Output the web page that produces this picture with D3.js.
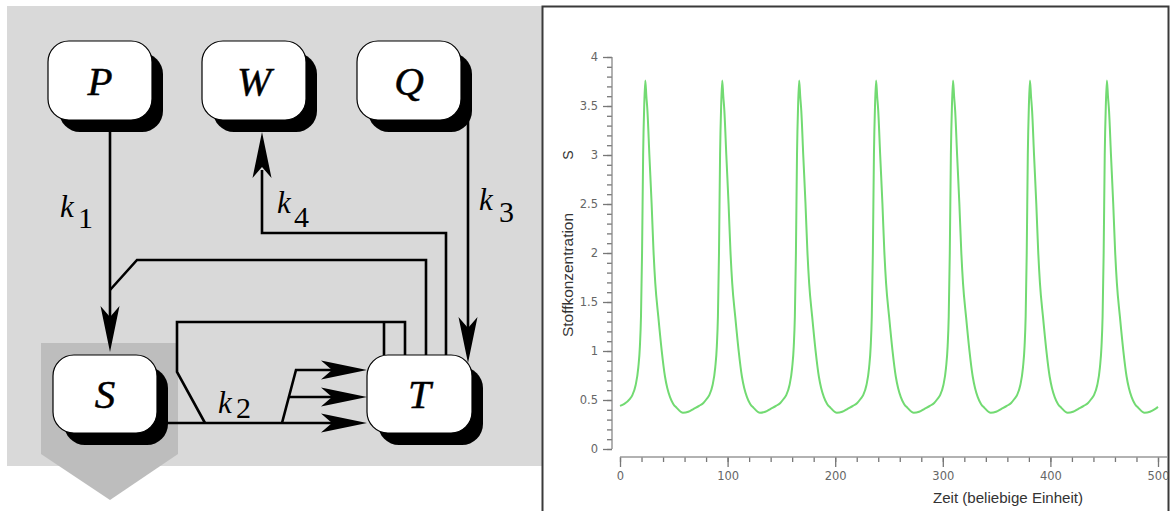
<!DOCTYPE html>
<html>
<head>
<meta charset="utf-8">
<script src="https://cdn.jsdelivr.net/npm/d3@7"></script>
<style>
  body { margin: 0; background: #fff; }
  svg { display: block; }
</style>
</head>
<body>
<svg id="chart" width="1175" height="511"></svg>
<script>
// values: time (beliebige Einheit) and S concentration
var zeit = [
  0, 4, 9, 11.5, 14.5, 17, 18.5, 19.5, 20.5, 21.5, 22.5, 23.5,
  24.5, 25.5, 27.3, 29.4, 31.1, 32.8, 35.6, 38.7, 41.8, 44, 46.5, 49.5, 52.7, 58.5, 63.5, 68.5, 73.5, 77.5, 80.5, 83, 86, 88.5, 90, 91, 92, 93, 94, 95,
  96, 97, 98.8, 100.9, 102.6, 104.3, 107.1, 110.2, 113.3, 115.5, 118, 121, 124.2, 130, 135, 140, 145, 149, 152, 154.5, 157.5, 160, 161.5, 162.5, 163.5, 164.5, 165.5, 166.5,
  167.5, 168.5, 170.3, 172.4, 174.1, 175.8, 178.6, 181.7, 184.8, 187, 189.5, 192.5, 195.7, 201.5, 206.5, 211.5, 216.5, 220.5, 223.5, 226, 229, 231.5, 233, 234, 235, 236, 237, 238,
  239, 240, 241.8, 243.9, 245.6, 247.3, 250.1, 253.2, 256.3, 258.5, 261, 264, 267.2, 273, 278, 283, 288, 292, 295, 297.5, 300.5, 303, 304.5, 305.5, 306.5, 307.5, 308.5, 309.5,
  310.5, 311.5, 313.3, 315.4, 317.1, 318.8, 321.6, 324.7, 327.8, 330, 332.5, 335.5, 338.7, 344.5, 349.5, 354.5, 359.5, 363.5, 366.5, 369, 372, 374.5, 376, 377, 378, 379, 380, 381,
  382, 383, 384.8, 386.9, 388.6, 390.3, 393.1, 396.2, 399.3, 401.5, 404, 407, 410.2, 416, 421, 426, 431, 435, 438, 440.5, 443.5, 446, 447.5, 448.5, 449.5, 450.5, 451.5, 452.5,
  453.5, 454.5, 456.3, 458.4, 460.1, 461.8, 464.6, 467.7, 470.8, 473, 475.5, 478.5, 481.7, 487.5, 492.5, 497.5, 500
];
var konz = [
  0.44, 0.46, 0.51, 0.55, 0.65, 0.83, 1.05, 1.35, 2.0, 3.0, 3.5, 3.76,
  3.6, 3.45, 3.0, 2.5, 2.03, 1.69, 1.35, 1.01, 0.74, 0.62, 0.53, 0.46, 0.42, 0.37, 0.38, 0.41, 0.44, 0.47, 0.51, 0.55, 0.65, 0.83, 1.05, 1.35, 2.0, 3.0, 3.5, 3.76,
  3.6, 3.45, 3.0, 2.5, 2.03, 1.69, 1.35, 1.01, 0.74, 0.62, 0.53, 0.46, 0.42, 0.37, 0.38, 0.41, 0.44, 0.47, 0.51, 0.55, 0.65, 0.83, 1.05, 1.35, 2.0, 3.0, 3.5, 3.76,
  3.6, 3.45, 3.0, 2.5, 2.03, 1.69, 1.35, 1.01, 0.74, 0.62, 0.53, 0.46, 0.42, 0.37, 0.38, 0.41, 0.44, 0.47, 0.51, 0.55, 0.65, 0.83, 1.05, 1.35, 2.0, 3.0, 3.5, 3.76,
  3.6, 3.45, 3.0, 2.5, 2.03, 1.69, 1.35, 1.01, 0.74, 0.62, 0.53, 0.46, 0.42, 0.37, 0.38, 0.41, 0.44, 0.47, 0.51, 0.55, 0.65, 0.83, 1.05, 1.35, 2.0, 3.0, 3.5, 3.76,
  3.6, 3.45, 3.0, 2.5, 2.03, 1.69, 1.35, 1.01, 0.74, 0.62, 0.53, 0.46, 0.42, 0.37, 0.38, 0.41, 0.44, 0.47, 0.51, 0.55, 0.65, 0.83, 1.05, 1.35, 2.0, 3.0, 3.5, 3.76,
  3.6, 3.45, 3.0, 2.5, 2.03, 1.69, 1.35, 1.01, 0.74, 0.62, 0.53, 0.46, 0.42, 0.37, 0.38, 0.41, 0.44, 0.47, 0.51, 0.55, 0.65, 0.83, 1.05, 1.35, 2.0, 3.0, 3.5, 3.76,
  3.6, 3.45, 3.0, 2.5, 2.03, 1.69, 1.35, 1.01, 0.74, 0.62, 0.53, 0.46, 0.42, 0.37, 0.38, 0.41, 0.43
];
var xTicks = [0, 100, 200, 300, 400, 500];
var yTicks = [0, 0.5, 1, 1.5, 2, 2.5, 3, 3.5, 4];
var xTitle = "Zeit (beliebige Einheit)";
var yTitle = "Stoffkonzentration";

// reaction scheme
var species = ["P", "W", "Q", "S", "T"];
var rates = ["1", "2", "3", "4"];

var svg = d3.select("#chart");
var serif = "'Liberation Serif', 'Times New Roman', serif";

// ---------- left: scheme ----------
var scheme = svg.append("g");

scheme.append("rect")
  .attr("x", 7).attr("y", 6)
  .attr("width", 535).attr("height", 460)
  .attr("fill", "#d9d9d9");

// outflow pentagon behind S
scheme.append("path")
  .attr("d", "M41,343 H178 V454 L110,500 L41,454 Z")
  .attr("fill", "#bdbdbd");

var boxes = {
  P: { x: 48, y: 41, w: 104, h: 79 },
  W: { x: 202, y: 41, w: 104, h: 79 },
  Q: { x: 357, y: 41, w: 104, h: 79 },
  S: { x: 53, y: 355, w: 104, h: 78 },
  T: { x: 367, y: 355, w: 105, h: 78 }
};

function arrowHead(x, y, angle) {
  scheme.append("path")
    .attr("d", "M0,0 L-46,-9.5 L-35,0 L-46,9.5 Z")
    .attr("transform", "translate(" + x + "," + y + ") rotate(" + angle + ")")
    .attr("fill", "#000");
}

var lines = [
  "M110,120 V320",                      // P -> S
  "M110,290 L137,260 H426 V355",         // T -> S
  "M446,355 V233 H262 V170",            // T -> W
  "M468,120 V330",                      // Q -> T
  "M168,423 H335",                      // S -> T
  "M205,423 L177,372 V322 H405 V355",
  "M384,322 V355",
  "M282,423 L296,370 H335",
  "M289,397 H335"
];
scheme.selectAll("path.link")
  .data(lines)
  .enter()
  .append("path")
  .attr("class", "link")
  .attr("d", function (d) { return d; })
  .attr("fill", "none")
  .attr("stroke", "#000")
  .attr("stroke-width", 2.6);

arrowHead(110, 352, 90);
arrowHead(262, 132, -90);
arrowHead(468, 363, 90);
arrowHead(367, 370, 0);
arrowHead(367, 397, 0);
arrowHead(367, 423, 0);

species.forEach(function (s) {
  var b = boxes[s];
  scheme.append("rect")
    .attr("x", b.x + 11).attr("y", b.y + 12)
    .attr("width", b.w).attr("height", b.h)
    .attr("rx", 21).attr("fill", "#000");
  scheme.append("rect")
    .attr("x", b.x).attr("y", b.y)
    .attr("width", b.w).attr("height", b.h)
    .attr("rx", 21)
    .attr("fill", "#fff")
    .attr("stroke", "#000")
    .attr("stroke-width", 1.2);
  scheme.append("text")
    .attr("x", b.x + b.w / 2)
    .attr("y", b.y + b.h / 2 + 14)
    .attr("text-anchor", "middle")
    .attr("stroke", "#000")
    .attr("stroke-width", 0.5)
    .style("font-family", serif)
    .style("font-style", "italic")
    .style("font-size", "41px")
    .text(s);
});

var rateLabelPos = [
  { kx: 60, ky: 217, sx: 78, sy: 228 },
  { kx: 218, ky: 413, sx: 236, sy: 418 },
  { kx: 479, ky: 210, sx: 499, sy: 222 },
  { kx: 277, ky: 213, sx: 294, sy: 227 }
];
rates.forEach(function (r, i) {
  var p = rateLabelPos[i];
  scheme.append("text")
    .attr("x", p.kx).attr("y", p.ky)
    .style("font-family", serif)
    .style("font-style", "italic")
    .style("font-size", "31px")
    .text("k");
  scheme.append("text")
    .attr("x", p.sx).attr("y", p.sy)
    .style("font-family", serif)
    .style("font-size", "30px")
    .text(r);
});

// ---------- right: time course ----------
svg.append("clipPath").attr("id", "frameClip")
  .append("rect")
  .attr("x", 543).attr("y", 7)
  .attr("width", 625).attr("height", 520);

svg.append("rect")
  .attr("x", 542.5).attr("y", 6.5)
  .attr("width", 626).attr("height", 530)
  .attr("fill", "#fff")
  .attr("stroke", "#3a3a3a")
  .attr("stroke-width", 2);

var plot = svg.append("g").attr("clip-path", "url(#frameClip)");

var x = d3.scaleLinear().domain([0, 500]).range([620, 1158]);
var y = d3.scaleLinear().domain([0, 4]).range([449, 57]);

var tickFont = "'DejaVu Sans', Verdana, sans-serif";

// y axis
var yMinor = plot.append("g")
  .attr("transform", "translate(612,0)")
  .call(d3.axisLeft(y).tickValues(y.ticks(40)).tickSize(5).tickFormat(""));
var yMajor = plot.append("g")
  .attr("transform", "translate(612,0)")
  .call(d3.axisLeft(y).tickValues(yTicks).tickSize(9).tickPadding(5)
    .tickFormat(function (d) { return d; }));

// x axis
var xMinor = plot.append("g")
  .attr("transform", "translate(0,457)")
  .call(d3.axisBottom(x).tickValues(x.ticks(25)).tickSize(5).tickFormat(""));
var xMajor = plot.append("g")
  .attr("transform", "translate(0,457)")
  .call(d3.axisBottom(x).tickValues(xTicks).tickSize(10).tickPadding(5)
    .tickFormat(function (d) { return d; }));

[yMinor, yMajor, xMinor, xMajor].forEach(function (g) {
  g.select(".domain").remove();
  g.selectAll(".tick line").attr("stroke", "#777").attr("stroke-width", 1.3);
  g.selectAll(".tick text")
    .attr("fill", "#666")
    .style("font-family", tickFont)
    .style("font-size", "11.5px");
});

plot.append("line")
  .attr("x1", 612).attr("x2", 612)
  .attr("y1", y(0)).attr("y2", y(4))
  .attr("stroke", "#888").attr("stroke-width", 1.3);
plot.append("line")
  .attr("x1", x(0)).attr("x2", 1170)
  .attr("y1", 457).attr("y2", 457)
  .attr("stroke", "#999").attr("stroke-width", 1.3);

var pts = zeit.map(function (t, i) { return [t, konz[i]]; });
var line = d3.line()
  .curve(d3.curveMonotoneX)
  .x(function (d) { return x(d[0]); })
  .y(function (d) { return y(d[1]); });

plot.append("path")
  .datum(pts)
  .attr("d", line)
  .attr("fill", "none")
  .attr("stroke", "#72da72")
  .attr("stroke-width", 2)
  .attr("stroke-linejoin", "round");

plot.append("text")
  .attr("x", 1008).attr("y", 503)
  .attr("text-anchor", "middle")
  .attr("textLength", 150)
  .attr("lengthAdjust", "spacingAndGlyphs")
  .attr("fill", "#333")
  .style("font-family", "'Liberation Sans', Arial, sans-serif")
  .style("font-size", "14px")
  .text(xTitle);

plot.append("text")
  .attr("transform", "translate(573,275) rotate(-90)")
  .attr("text-anchor", "middle")
  .attr("textLength", 124)
  .attr("lengthAdjust", "spacingAndGlyphs")
  .attr("fill", "#333")
  .style("font-family", "'Liberation Sans', Arial, sans-serif")
  .style("font-size", "14px")
  .text(yTitle);

plot.append("text")
  .attr("transform", "translate(573,155) rotate(-90)")
  .attr("text-anchor", "middle")
  .attr("fill", "#333")
  .style("font-family", "'Liberation Sans', Arial, sans-serif")
  .style("font-size", "14px")
  .text("S");
</script>
</body>
</html>
